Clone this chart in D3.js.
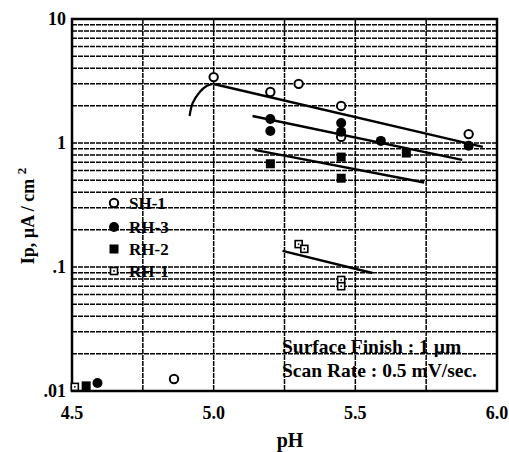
<!DOCTYPE html>
<html>
<head>
<meta charset="utf-8">
<script src="https://cdn.jsdelivr.net/npm/d3@7"></script>
<style>
  body { margin: 0; background: #fff; }
  svg text { font-family: "Liberation Serif", "Times New Roman", serif; font-weight: bold; fill: #000; }
</style>
</head>
<body>
<svg id="chart" width="509" height="452"></svg>
<script>
// ---- data ----
const sh1 = [[5.0, 3.4], [5.2, 2.58], [5.3, 3.0], [5.45, 1.99], [5.45, 1.12], [5.9, 1.18], [4.86, 0.0125]];
const rh3 = [[5.2, 1.56], [5.2, 1.25], [5.45, 1.45], [5.45, 1.23], [5.59, 1.04], [5.9, 0.95], [4.59, 0.0116]];
const rh2 = [[5.2, 0.68], [5.45, 0.77], [5.45, 0.52], [5.68, 0.83], [4.55, 0.011]];
const rh1 = [[5.3, 0.153], [5.32, 0.14], [5.45, 0.0786], [5.45, 0.070], [4.51, 0.0108]];
const fitSH1 = [[5.0, 2.99], [5.95, 0.93]];
const curveSH1 = [[4.915, 1.65], [4.926, 2.1], [4.951, 2.58], [4.975, 2.88], [4.996, 2.99]];
const fitRH3 = [[5.137, 1.65], [5.877, 0.73]];
const fitRH2 = [[5.144, 0.88], [5.743, 0.48]];
const fitRH1 = [[5.243, 0.135], [5.56, 0.0895]];
const xTicks = [4.5, 5.0, 5.5, 6.0];
const xGrid = [4.75, 5.0, 5.25, 5.5, 5.75];
const yTicks = [0.01, 0.1, 1, 10];
const yTickLabels = [".01", ".1", "1", "10"];
const legendNames = ["SH-1", "RH-3", "RH-2", "RH-1"];
const notes = ["Surface Finish : 1 \u00b5m", "Scan Rate : 0.5 mV/sec."];

// ---- layout ----
const svg = d3.select("#chart");
const L = 72, R = 497, T = 19, B = 391;
const x = d3.scaleLinear().domain([4.5, 6.0]).range([L, R]);
const y = d3.scaleLog().domain([0.01, 10]).range([B, T]);

// horizontal grid (log minor)
const yGrid = [];
[0.01, 0.1, 1].forEach(d => { for (let k = 2; k <= 9; k++) yGrid.push(d * k); });
yGrid.push(0.1, 1);
svg.append("g").selectAll("line").data(yGrid).join("line")
  .attr("x1", L).attr("x2", R)
  .attr("y1", d => y(d)).attr("y2", d => y(d))
  .attr("stroke", "#000").attr("stroke-width", 1.5).attr("stroke-dasharray", "5,1");
svg.append("g").selectAll("line").data(xGrid).join("line")
  .attr("y1", T).attr("y2", B)
  .attr("x1", d => x(d)).attr("x2", d => x(d))
  .attr("stroke", "#000").attr("stroke-width", 1.5).attr("stroke-dasharray", "5,1");

// frame
svg.append("rect").attr("x", L).attr("y", T).attr("width", R - L).attr("height", B - T)
  .attr("fill", "none").attr("stroke", "#000").attr("stroke-width", 2.5);

// axes labels
svg.append("g").selectAll("text").data(xTicks).join("text")
  .attr("x", d => x(d)).attr("y", 419).attr("text-anchor", "middle")
  .attr("font-size", 18).text(d => d.toFixed(1));
svg.append("g").selectAll("text").data(yTicks).join("text")
  .attr("x", 66).attr("y", d => y(d) + 6).attr("text-anchor", "end")
  .attr("font-size", 18).text((d, i) => yTickLabels[i]);
svg.append("text").attr("x", 290).attr("y", 447).attr("text-anchor", "middle")
  .attr("font-size", 20).text("pH");
const yl = svg.append("text").attr("transform", "translate(34,216) rotate(-90)")
  .attr("text-anchor", "middle").attr("font-size", 18);
yl.append("tspan").text("Ip, \u00b5A / cm ");
yl.append("tspan").attr("dy", -8).attr("font-size", 13).text("2");

// fit lines
const line = d3.line().x(d => x(d[0])).y(d => y(d[1]));
[fitSH1, fitRH3, fitRH2, fitRH1].forEach(f => {
  svg.append("path").attr("d", line(f)).attr("fill", "none").attr("stroke", "#000").attr("stroke-width", 2.4);
});
svg.append("path").attr("d", d3.line().curve(d3.curveCatmullRom).x(d => x(d[0])).y(d => y(d[1]))(curveSH1))
  .attr("fill", "none").attr("stroke", "#000").attr("stroke-width", 2.2);

// markers
function drawMarker(g, type, cx, cy) {
  if (type === 0) {
    g.append("circle").attr("cx", cx).attr("cy", cy).attr("r", 4.2)
      .attr("fill", "#fff").attr("stroke", "#000").attr("stroke-width", 2);
  } else if (type === 1) {
    g.append("circle").attr("cx", cx).attr("cy", cy).attr("r", 5).attr("fill", "#000");
  } else if (type === 2) {
    g.append("rect").attr("x", cx - 4.5).attr("y", cy - 4.5).attr("width", 9).attr("height", 9).attr("fill", "#000");
  } else {
    g.append("rect").attr("x", cx - 3.5).attr("y", cy - 3.5).attr("width", 7).attr("height", 7)
      .attr("fill", "#fff").attr("stroke", "#000").attr("stroke-width", 1.6);
    g.append("circle").attr("cx", cx).attr("cy", cy).attr("r", 0.9).attr("fill", "#000");
  }
}
const mg = svg.append("g");
[sh1, rh3, rh2, rh1].forEach((s, i) => s.forEach(d => drawMarker(mg, i, x(d[0]), y(d[1]))));

// legend
const legY = [203, 227, 249, 271];
legendNames.forEach((n, i) => {
  drawMarker(svg, i, 114, legY[i]);
  svg.append("text").attr("x", 129).attr("y", legY[i] + 6).attr("font-size", 17).text(n);
});

// notes
svg.append("text").attr("x", 282).attr("y", 353).attr("font-size", 19.5).text(notes[0]);
svg.append("text").attr("x", 282).attr("y", 377).attr("font-size", 19.5).text(notes[1]);
</script>
</body>
</html>
